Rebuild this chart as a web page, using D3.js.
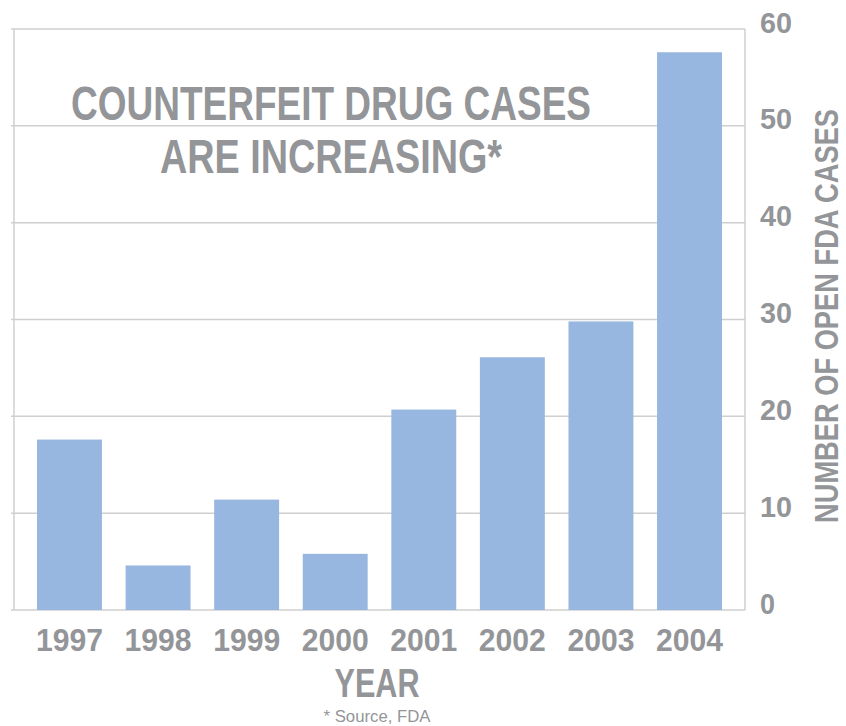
<!DOCTYPE html>
<html>
<head>
<meta charset="utf-8">
<script src="https://cdn.jsdelivr.net/npm/d3@7"></script>
<style>
  body { margin: 0; background: #fff; }
  text { font-family: "Liberation Sans", Arial, sans-serif; }
</style>
</head>
<body>
<div id="chart"></div>
<script>
const years = ['1997', '1998', '1999', '2000', '2001', '2002', '2003', '2004'];
const cases = [17.6, 4.6, 11.4, 5.8, 20.7, 26.1, 29.8, 57.6];
const yTicks = [0, 10, 20, 30, 40, 50, 60];
const titleLines = ['COUNTERFEIT DRUG CASES', 'ARE INCREASING*'];

const width = 846, height = 726,
  margin = { left: 14, top: 29, right: 101, bottom: 116 };
const grey = '#939598', gridColor = '#cfcfcf', barColor = '#97b7e0';

const svg = d3.select('#chart')
  .append('svg')
  .attr('width', width)
  .attr('height', height)

const x = d3.scaleBand()
  .domain(years)
  .range([margin.left, width - margin.right])
  .paddingInner(0.267)
  .paddingOuter(0.26)

const y = d3.scaleLinear()
  .domain([0, 60])
  .range([height - margin.bottom, margin.top])

// grid lines
svg.append('g')
  .selectAll('line')
  .data(yTicks)
  .enter()
  .append('line')
  .attr('x1', margin.left - 3)
  .attr('x2', width - margin.right)
  .attr('y1', (d) => y(d))
  .attr('y2', (d) => y(d))
  .attr('stroke', gridColor)
  .attr('stroke-width', 1.5)

// frame sides
svg.append('line')
  .attr('x1', margin.left).attr('x2', margin.left)
  .attr('y1', y(60)).attr('y2', y(0))
  .attr('stroke', gridColor).attr('stroke-width', 1.5)
svg.append('line')
  .attr('x1', width - margin.right).attr('x2', width - margin.right)
  .attr('y1', y(60)).attr('y2', y(0))
  .attr('stroke', gridColor).attr('stroke-width', 1.5)

// bars
svg.append('g')
  .selectAll('rect')
  .data(years)
  .enter()
  .append('rect')
  .attr('x', (d) => x(d))
  .attr('width', x.bandwidth())
  .attr('y', (d, i) => y(cases[i]))
  .attr('height', (d, i) => y(0) - y(cases[i]))
  .attr('fill', barColor)

// y tick labels on the right
svg.append('g')
  .selectAll('text')
  .data(yTicks)
  .enter()
  .append('text')
  .attr('x', 760)
  .attr('y', (d) => y(d) + 3.5)
  .attr('font-size', 30)
  .attr('font-weight', 'bold')
  .attr('fill', grey)
  .attr('textLength', (d) => d < 10 ? 15 : 32)
  .attr('lengthAdjust', 'spacingAndGlyphs')
  .text((d) => d)

// year labels
svg.append('g')
  .selectAll('text')
  .data(years)
  .enter()
  .append('text')
  .attr('x', (d) => x(d) + x.bandwidth() / 2)
  .attr('y', 651)
  .attr('text-anchor', 'middle')
  .attr('font-size', 32)
  .attr('font-weight', 'bold')
  .attr('fill', grey)
  .attr('textLength', 67)
  .attr('lengthAdjust', 'spacingAndGlyphs')
  .text((d) => d)

// axis titles
svg.append('text')
  .attr('x', 377)
  .attr('y', 697)
  .attr('text-anchor', 'middle')
  .attr('font-size', 40)
  .attr('font-weight', 'bold')
  .attr('fill', grey)
  .attr('textLength', 85)
  .attr('lengthAdjust', 'spacingAndGlyphs')
  .text('YEAR')

svg.append('text')
  .attr('transform', 'translate(838,316) rotate(-90)')
  .attr('text-anchor', 'middle')
  .attr('font-size', 33)
  .attr('font-weight', 'bold')
  .attr('fill', grey)
  .attr('textLength', 414)
  .attr('lengthAdjust', 'spacingAndGlyphs')
  .text('NUMBER OF OPEN FDA CASES')

// title
const titleWidths = [520, 342];
svg.append('g')
  .selectAll('text')
  .data(titleLines)
  .enter()
  .append('text')
  .attr('x', 331)
  .attr('y', (d, i) => 120 + i * 53)
  .attr('text-anchor', 'middle')
  .attr('font-size', 48)
  .attr('font-weight', 'bold')
  .attr('fill', grey)
  .attr('textLength', (d, i) => titleWidths[i])
  .attr('lengthAdjust', 'spacingAndGlyphs')
  .text((d) => d)

// source note
svg.append('text')
  .attr('x', 377)
  .attr('y', 722)
  .attr('text-anchor', 'middle')
  .attr('font-size', 16)
  .attr('fill', grey)
  .attr('textLength', 107)
  .attr('lengthAdjust', 'spacingAndGlyphs')
  .text('* Source, FDA')
</script>
</body>
</html>
